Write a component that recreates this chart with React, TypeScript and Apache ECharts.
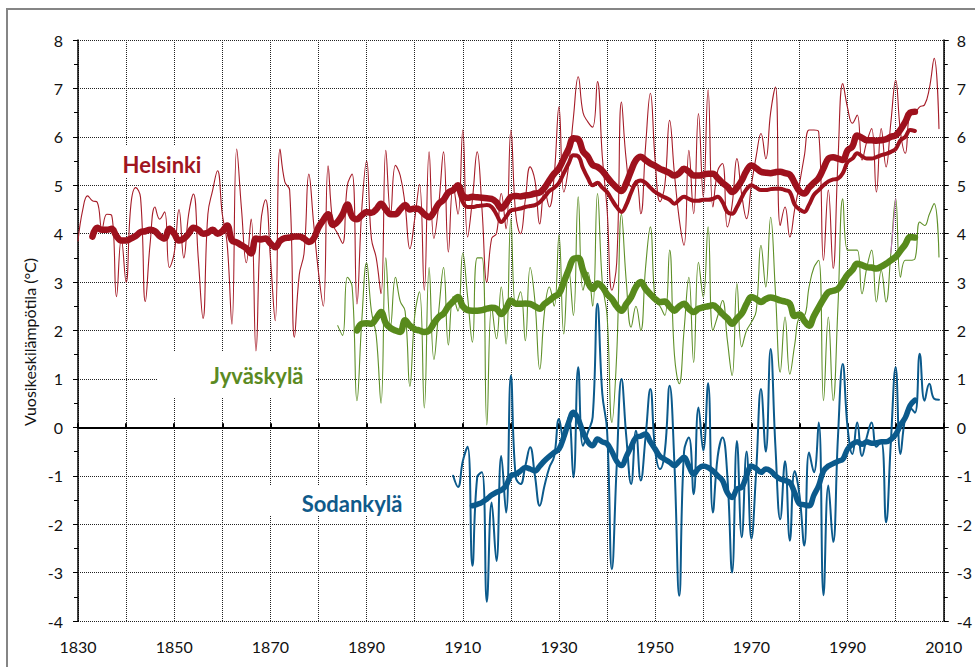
import React, { useEffect, useRef } from "react";
import * as echarts from "echarts";

// Axis ranges
const X_MIN = 1830;
const X_MAX = 2010;
const Y_MIN = -4;
const Y_MAX = 8;
const yTicks = [-4, -3, -2, -1, 0, 1, 2, 3, 4, 5, 6, 7, 8];
const xLabelYears = [1830, 1850, 1870, 1890, 1910, 1930, 1950, 1970, 1990, 2010];

// Helsinki annual mean temperature, 1830–2009
const HELSINKI_START = 1830;
const helsinkiAnnual = [
  3.85, 4.5, 4.78, 4.68, 4.65, 4.1, 4.4, 4.38, 2.7, 3.9,
  3.0, 4.6, 4.95, 4.75, 2.6, 3.8, 4.55, 4.3, 4.45, 3.3,
  3.6, 4.5, 3.5, 4.4, 4.82, 3.5, 2.25, 4.4, 4.9, 5.3,
  4.4, 3.8, 2.13, 5.75, 4.5, 3.4, 4.3, 1.58, 4.2, 4.7,
  3.5, 2.2, 5.75, 5.07, 4.9, 1.86, 3.15, 3.6, 5.23, 4.2,
  3.2, 2.5, 5.4, 4.2, 4.0, 3.8, 5.0, 5.23, 2.55, 4.5,
  5.5, 3.9, 3.5, 2.76, 5.72, 4.41, 5.41, 5.2, 4.6, 3.69,
  4.3, 5.02, 2.83, 5.69, 3.9, 4.6, 5.69, 3.62, 5.0, 4.4,
  6.14, 3.93, 4.7, 5.69, 4.5, 3.0, 3.9, 4.0, 4.83, 4.1,
  6.14, 4.41, 4.0, 4.7, 5.38, 5.1, 4.2, 4.9, 4.55, 5.2,
  6.62, 4.86, 5.4, 6.4, 7.24, 6.5, 6.31, 6.2, 7.14, 5.6,
  4.5, 2.83, 3.4, 6.72, 5.5, 4.97, 5.1, 4.41, 5.8, 6.9,
  5.5, 4.66, 5.0, 6.34, 5.24, 4.3, 3.76, 5.72, 4.41, 6.48,
  4.76, 6.97, 4.55, 5.3, 5.45, 4.14, 4.6, 5.55, 4.8, 4.31,
  5.0, 5.6, 6.07, 5.55, 6.5, 7.03, 4.17, 4.55, 3.93, 4.5,
  5.03, 5.6, 6.14, 6.14, 6.1, 3.45, 4.9, 3.28, 5.5, 7.1,
  6.6, 6.28, 6.45, 5.52, 5.9, 6.17, 4.86, 6.17, 5.38, 6.3,
  7.17, 6.1, 5.66, 6.48, 6.5, 6.62, 6.66, 7.0, 7.62, 6.17,
];

// Helsinki smoothed (thick), 1833–2004
const HELSINKI_SMOOTH_START = 1833;
const helsinkiSmooth = [
  3.94, 4.12, 4.08, 4.08, 4.1, 3.95, 3.86,
  3.86, 3.9, 3.95, 4.03, 4.05, 4.08, 4.05, 3.95, 3.9, 4.1,
  4.0, 3.86, 3.9, 4.0, 4.12, 4.08, 4.0, 4.02, 4.08, 4.0,
  4.05, 4.17, 3.86, 3.82, 3.76, 3.7, 3.59, 3.9, 3.88, 3.9,
  3.8, 3.72, 3.85, 3.91, 3.92, 3.94, 3.94, 3.9, 3.83, 3.9,
  4.13, 4.28, 4.4, 4.18, 4.25, 4.4, 4.6, 4.35, 4.3, 4.38,
  4.45, 4.43, 4.5, 4.62, 4.5, 4.4, 4.4, 4.5, 4.59, 4.5,
  4.52, 4.5, 4.4, 4.34, 4.45, 4.62, 4.7, 4.85, 4.9, 5.0,
  4.79, 4.74, 4.76, 4.75, 4.74, 4.73, 4.72, 4.65, 4.52, 4.62,
  4.76, 4.78, 4.77, 4.79, 4.8, 4.83, 4.85, 4.95, 5.1, 5.24,
  5.35, 5.55, 5.75, 5.97, 5.95, 5.7, 5.59, 5.42, 5.38, 5.3,
  5.17, 5.05, 4.95, 4.88, 5.05, 5.3, 5.52, 5.59, 5.52, 5.45,
  5.4, 5.34, 5.3, 5.25, 5.2, 5.25, 5.34, 5.28, 5.2, 5.2,
  5.22, 5.24, 5.24, 5.15, 5.05, 4.97, 4.86, 4.95, 5.1, 5.3,
  5.41, 5.35, 5.28, 5.26, 5.25, 5.27, 5.28, 5.25, 5.22, 5.05,
  4.88, 4.83, 4.95, 5.05, 5.15, 5.35, 5.55, 5.58, 5.55, 5.52,
  5.72, 5.8, 6.03, 5.98, 5.93, 5.93, 5.92, 5.93, 5.95, 6.0,
  6.03, 6.15, 6.31, 6.5, 6.52,
];

// Helsinki second smoothed line (lower), 1909–2004
const HELSINKI_ALT_START = 1909;
const helsinkiAlt = [
  4.95,
  4.65, 4.55, 4.55, 4.57, 4.58, 4.59, 4.55, 4.4, 4.24, 4.35,
  4.48, 4.5, 4.52, 4.55, 4.57, 4.59, 4.65, 4.76, 4.88, 4.95,
  5.05, 5.25, 5.45, 5.62, 5.6, 5.35, 5.15, 5.0, 5.05, 4.95,
  4.86, 4.7, 4.55, 4.45, 4.6, 4.85, 5.05, 5.1, 5.05, 4.95,
  4.86, 4.8, 4.75, 4.7, 4.62, 4.7, 4.76, 4.72, 4.68, 4.68,
  4.7, 4.7, 4.72, 4.76, 4.65, 4.45, 4.41, 4.55, 4.75, 4.92,
  5.0, 4.95, 4.9, 4.9, 4.92, 4.93, 4.93, 4.9, 4.86, 4.6,
  4.5, 4.45, 4.6, 4.8, 4.9, 5.0, 5.08, 5.12, 5.14, 5.25,
  5.48, 5.55, 5.66, 5.6, 5.55, 5.55, 5.58, 5.62, 5.65, 5.69,
  5.75, 5.93, 6.0, 6.14, 6.12,
];

// Jyväskylä annual, 1884–2009
const JYVASKYLA_START = 1884;
const jyvaskylaAnnual = [
  2.1, 1.9, 3.1, 2.9, 0.55, 2.2,
  3.4, 2.4, 1.9, 0.5, 3.5, 2.1, 3.1, 2.6, 2.4, 0.85,
  2.3, 2.8, 0.4, 3.3, 1.4, 2.4, 3.3, 1.7, 2.7, 2.4,
  3.6, 2.7, 1.76, 3.5, 3.5, 0.05, 2.5, 1.83, 2.9, 1.72,
  4.3, 2.5, 2.8, 1.79, 3.3, 2.6, 1.2, 2.4, 2.9, 2.5,
  3.97, 1.93, 3.3, 2.31, 4.76, 2.83, 3.2, 2.5, 4.83, 3.0,
  2.3, 0.1, 1.5, 4.4, 3.0, 2.07, 2.5, 2.0, 3.3, 4.14,
  2.62, 2.5, 2.31, 3.66, 1.5, 0.9, 2.0, 3.1, 1.34, 3.41,
  2.69, 4.14, 2.0, 2.3, 2.62, 1.8, 1.07, 2.97, 1.66, 2.0,
  2.17, 2.4, 3.76, 2.9, 4.34, 2.8, 1.14, 2.28, 1.1, 1.7,
  2.28, 2.3, 2.9, 3.3, 3.45, 0.55, 2.28, 0.55, 2.5, 4.72,
  3.66, 3.66, 3.66, 2.76, 3.3, 3.66, 2.59, 3.24, 2.59, 3.6,
  4.72, 3.1, 3.45, 3.45, 3.48, 4.24, 4.17, 4.4, 4.62, 3.52,
];

// Jyväskylä smoothed, 1888–2004
const JYVASKYLA_SMOOTH_START = 1888;
const jyvaskylaSmooth = [
  2.0, 2.14,
  2.15, 2.14, 2.25, 2.38, 2.15, 2.05, 2.0, 1.97, 2.21, 2.1,
  2.03, 2.0, 1.97, 2.0, 2.15, 2.28, 2.35, 2.5, 2.6, 2.69,
  2.5, 2.42, 2.41, 2.41, 2.42, 2.45, 2.47, 2.45, 2.34, 2.45,
  2.62, 2.55, 2.55, 2.56, 2.55, 2.5, 2.45, 2.55, 2.62, 2.7,
  2.76, 3.0, 3.25, 3.48, 3.5, 3.24, 3.0, 2.86, 2.97, 2.9,
  2.75, 2.65, 2.5, 2.41, 2.55, 2.69, 2.9, 3.0, 2.86, 2.75,
  2.65, 2.59, 2.6, 2.5, 2.41, 2.5, 2.55, 2.45, 2.38, 2.45,
  2.48, 2.5, 2.52, 2.45, 2.34, 2.25, 2.14, 2.25, 2.35, 2.55,
  2.69, 2.65, 2.59, 2.65, 2.68, 2.66, 2.62, 2.6, 2.55, 2.3,
  2.33, 2.2, 2.1, 2.3, 2.48, 2.65, 2.79, 2.82, 2.86, 3.0,
  3.15, 3.25, 3.38, 3.35, 3.31, 3.3, 3.28, 3.32, 3.38, 3.45,
  3.52, 3.65, 3.78, 3.93, 3.92,
];

// Short pink segment near 2000
const pinkSegmentYears = [1999, 2000];
const pinkSegmentValues = [3.6, 4.72];

// Sodankylä annual, 1908–2009
const SODANKYLA_START = 1908;
const sodankylaAnnual = [
  -1.0, -1.23,
  -0.7, -0.4, -2.86, -1.03, -0.93, -3.6, -1.55, -2.76, -0.59, -1.76,
  1.07, -1.03, -1.17, -0.8, -0.41, -1.0, -1.62, -1.2, -0.83, -0.6,
  0.17, -0.28, 0.21, -1.03, 1.24, -0.38, -0.1, 0.21, 2.55, 0.7,
  -0.07, -2.93, -0.8, 1.0, -0.2, -1.17, -0.07, -1.1, -0.2, 0.79,
  -0.48, -0.86, -0.5, 0.86, -0.76, -3.48, -0.5, -0.21, -1.38, 0.41,
  -0.48, 0.91, -1.76, -0.6, -0.21, -1.0, -3.0, -0.28, -2.27, -0.5,
  -2.3, -0.9, 0.79, -0.5, 1.62, -0.4, -1.9, -0.7, -2.34, -0.9,
  -1.4, -2.44, -0.52, -0.93, 0.1, -3.47, -1.2, -2.37, -0.2, 1.31,
  0.0, -0.55, 0.1, -0.59, -0.2, 0.1, -0.4, -0.3, -1.96, -0.3,
  1.24, -0.55, 0.2, 0.4, 0.3, 1.52, 0.55, 0.9, 0.59, 0.57,
];

// Sodankylä smoothed, 1912–2004
const SODANKYLA_SMOOTH_START = 1912;
const sodankylaSmooth = [
  -1.62, -1.59, -1.55, -1.48, -1.4, -1.34, -1.3, -1.2,
  -1.0, -0.97, -0.9, -0.83, -0.86, -0.9, -0.8, -0.69, -0.6, -0.52,
  -0.45, -0.2, 0.1, 0.31, 0.17, -0.1, -0.3, -0.38, -0.24, -0.3,
  -0.34, -0.5, -0.7, -0.79, -0.6, -0.4, -0.21, -0.18, -0.14, -0.3,
  -0.45, -0.6, -0.66, -0.72, -0.79, -0.7, -0.62, -0.8, -0.97, -0.85,
  -0.8, -0.83, -0.9, -1.0, -1.1, -1.35, -1.45, -1.27, -1.24, -1.0,
  -0.8, -0.85, -0.93, -0.86, -0.9, -1.0, -1.07, -1.1, -1.14, -1.35,
  -1.58, -1.6, -1.62, -1.4, -1.2, -0.9, -0.8, -0.75, -0.7, -0.66,
  -0.45, -0.35, -0.3, -0.35, -0.3, -0.33, -0.32, -0.3, -0.3, -0.25,
  -0.15, 0.05, 0.2, 0.45, 0.56,
];

const RED = "#9e111d";
const GREEN = "#588a1c";
const BLUE = "#0b5a8c";

const FONT = "Lato, 'Open Sans', sans-serif";

function pairs(start: number, values: number[]) {
  return values.map((v, i) => [start + i, v]);
}

function lineSeries(name: string, data: number[][], color: string, width: number, z: number, smooth: number) {
  return {
    type: "line",
    name,
    data,
    showSymbol: false,
    symbol: "none",
    smooth,
    silent: true,
    z,
    xAxisIndex: 0,
    yAxisIndex: 0,
    lineStyle: { color, width, cap: "round", join: "round" },
  };
}

const gridDots = { color: "#222222", width: 1, type: [1, 1] as any };

export default function App() {
  const ref = useRef<HTMLDivElement>(null);

  useEffect(() => {
    document.body.style.margin = "0";
    if (!ref.current) return;
    const chart = echarts.init(ref.current, undefined, { renderer: "svg" });

    const labelBox = (x: number, y: number, w: number, h: number) => ({
      type: "rect",
      z: 1,
      silent: true,
      shape: { x, y, width: w, height: h },
      style: { fill: "#ffffff" },
    });
    const labelText = (text: string, x: number, y: number, color: string) => ({
      type: "text",
      z: 1,
      silent: true,
      x,
      y,
      style: {
        text,
        fill: color,
        font: `bold 22px ${FONT}`,
        align: "center",
        verticalAlign: "middle",
        textAlign: "center",
        textVerticalAlign: "middle",
      },
    });

    const tickLabel = {
      color: "#111",
      fontFamily: FONT,
      fontSize: 16,
    };

    const option: any = {
      animation: false,
      backgroundColor: "#ffffff",
      grid: { left: 78, right: 29, top: 40, bottom: 46, containLabel: false },
      xAxis: [
        {
          type: "value",
          min: X_MIN,
          max: X_MAX,
          interval: 10,
          position: "bottom",
          axisLine: { show: false, onZero: false },
          axisTick: { show: false },
          splitLine: { show: true, lineStyle: gridDots },
          axisLabel: {
            ...tickLabel,
            margin: 17,
            formatter: (v: number) => (xLabelYears.indexOf(v) >= 0 ? String(v) : ""),
          },
        },
        {
          type: "value",
          min: X_MIN,
          max: X_MAX,
          interval: 10,
          position: "top",
          axisLine: { show: true, onZero: true, onZeroAxisIndex: 0, lineStyle: { color: "#000", width: 2 } },
          axisTick: { show: true, length: 4, lineStyle: { color: "#000", width: 2 } },
          axisLabel: { show: false },
          splitLine: { show: false },
        },
      ],
      yAxis: [
        {
          type: "value",
          min: Y_MIN,
          max: Y_MAX,
          interval: 1,
          position: "left",
          axisLine: { show: true, onZero: false, lineStyle: { color: "#000", width: 1.5 } },
          axisTick: { show: true, length: 5, lineStyle: { color: "#000" } },
          minorTick: { show: true, splitNumber: 2, length: 4, lineStyle: { color: "#000" } },
          splitLine: { show: true, lineStyle: gridDots },
          axisLabel: {
            ...tickLabel,
            margin: 15,
            formatter: (v: number) => (yTicks.indexOf(v) >= 0 ? String(v) : ""),
          },
        },
        {
          type: "value",
          min: Y_MIN,
          max: Y_MAX,
          interval: 1,
          position: "right",
          axisLine: { show: true, onZero: false, lineStyle: { color: "#000", width: 1.5 } },
          axisTick: { show: true, length: 5, lineStyle: { color: "#000" } },
          minorTick: { show: true, splitNumber: 2, length: 4, lineStyle: { color: "#000" } },
          splitLine: { show: false },
          axisLabel: {
            ...tickLabel,
            margin: 13,
            formatter: (v: number) => (yTicks.indexOf(v) >= 0 ? String(v) : ""),
          },
        },
      ],
      graphic: [
        {
          type: "rect",
          z: 0,
          silent: true,
          shape: { x: 7, y: 9, width: 1100, height: 800 },
          style: { fill: "none", stroke: "#858585", lineWidth: 2 },
        },
        labelBox(100, 145, 115, 33),
        labelText("Helsinki", 162, 164, "#a0161f"),
        labelBox(157, 352, 158, 46),
        labelText("Jyväskylä", 257, 375, "#5b8a22"),
        labelBox(265, 485, 145, 31),
        labelText("Sodankylä", 352, 503, "#0f5a8a"),
        {
          type: "text",
          silent: true,
          z: 1,
          x: 29,
          y: 342,
          rotation: Math.PI / 2,
          style: {
            text: "Vuosikeskilämpötila (°C)",
            fill: "#111",
            font: `16px ${FONT}`,
            align: "center",
            verticalAlign: "middle",
            textAlign: "center",
            textVerticalAlign: "middle",
          },
        },
      ],
      series: [
        lineSeries("Helsinki", pairs(HELSINKI_START, helsinkiAnnual), "#a61c28", 1.1, 2, 0.45),
        lineSeries("Jyväskylä", pairs(JYVASKYLA_START, jyvaskylaAnnual), "#5f9028", 1.1, 3, 0.45),
        lineSeries(
          "Jyväskylä (2)",
          pinkSegmentYears.map((y, i) => [y, pinkSegmentValues[i]]),
          "#c678c0",
          1,
          4,
          0
        ),
        lineSeries("Sodankylä", pairs(SODANKYLA_START, sodankylaAnnual), BLUE, 2, 5, 0.45),
        lineSeries("Helsinki tasoitettu (2)", pairs(HELSINKI_ALT_START, helsinkiAlt), RED, 4, 6, 0.4),
        lineSeries("Helsinki tasoitettu", pairs(HELSINKI_SMOOTH_START, helsinkiSmooth), RED, 6.5, 7, 0.4),
        lineSeries("Jyväskylä tasoitettu", pairs(JYVASKYLA_SMOOTH_START, jyvaskylaSmooth), GREEN, 6.5, 7, 0.4),
        lineSeries("Sodankylä tasoitettu", pairs(SODANKYLA_SMOOTH_START, sodankylaSmooth), BLUE, 5.5, 7, 0.4),
      ],
    };

    chart.setOption(option);
    return () => {
      chart.dispose();
    };
  }, []);

  return <div ref={ref} style={{ width: 975, height: 667 }} />;
}
